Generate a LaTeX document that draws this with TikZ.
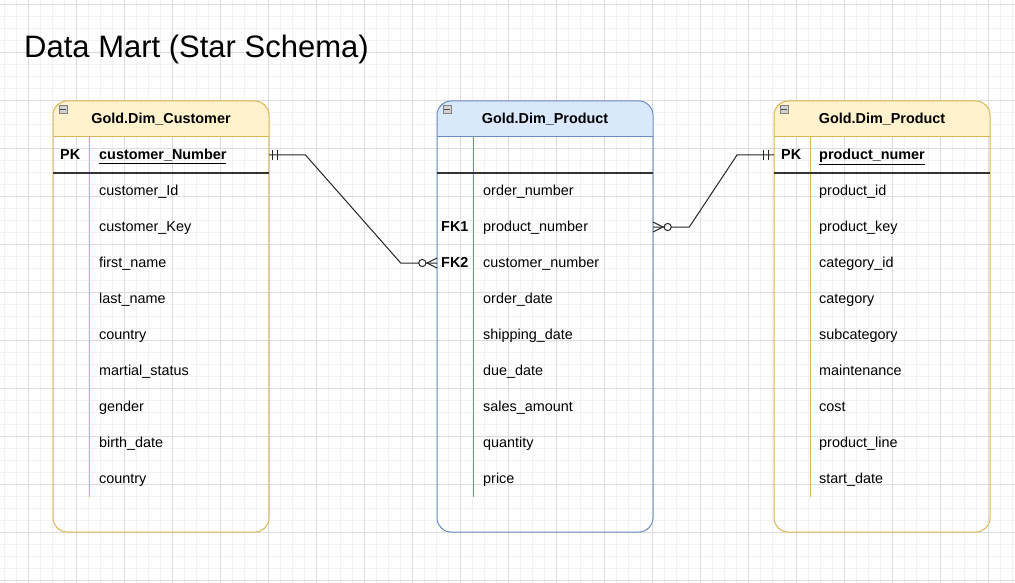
\documentclass[tikz,border=0pt]{standalone}
\usepackage{fontspec}
\setmainfont{Liberation Sans}
\definecolor{ybg}{HTML}{FFF2CC}
\definecolor{ybd}{HTML}{D6B656}
\definecolor{bbg}{HTML}{DAE8FC}
\definecolor{bbd}{HTML}{6C8EBF}
\definecolor{gmin}{HTML}{F2F2F2}
\definecolor{gmaj}{HTML}{DCDCDC}
\newcommand\ertable[5]{%
 \fill[#3] (#2,137) -- (#2,115) [rounded corners=14pt] -- (#2,101) -- (#2+216,101) -- (#2+216,115) [sharp corners] -- (#2+216,137) -- cycle;
 \node[tbl=#4] (#1) at (#2+108,316.5) {};
 \draw[#4,line width=1pt] (#2,137) -- (#2+216,137);
 \draw[#4,line width=1pt] (#2+36,137) -- (#2+36,497);
 \draw[black!80,line width=1.4pt] (#2,173) -- (#2+216,173);
 \node[hdr] (#1-t) at (#2+108,119) {#5};
 \node[draw=gray,fill=gray!35,minimum size=8pt,inner sep=0pt,line width=0.6pt] (#1-i) at (#2+10,109) {};
 \draw[black!70,line width=0.8pt] ([xshift=1.5pt]#1-i.west) -- ([xshift=-1.5pt]#1-i.east);
}
\begin{document}
\begin{tikzpicture}[x=1pt,y=-1pt,
 cell/.style={anchor=mid west,inner sep=0pt,yshift=-2pt,font=\fontsize{14.4}{17}\selectfont},
 key/.style={anchor=mid west,inner sep=0pt,yshift=-2pt,font=\fontsize{14.4}{17}\selectfont\bfseries},
 hdr/.style={inner sep=0pt,font=\fontsize{14.4}{17}\selectfont\bfseries},
 tbl/.style={draw=#1,line width=1pt,rounded corners=14pt,minimum width=216pt,minimum height=431pt,inner sep=0pt,outer sep=0pt},
 rel/.style={line width=1pt,black!85},
]
\useasboundingbox (0,0) rectangle (1015,583);
\fill[white] (0,0) rectangle (1015,583);
% grid
\foreach \i in {0,...,85} \draw[gmin,line width=0.8pt] ({4.3+12*\i},0) -- ({4.3+12*\i},583);
\foreach \i in {0,...,48} \draw[gmin,line width=0.8pt] (0,{4+12*\i}) -- (1015,{4+12*\i});
\foreach \i in {0,...,21} \draw[gmaj,line width=0.8pt] ({28.3+48*\i},0) -- ({28.3+48*\i},583);
\foreach \i in {0,...,12} \draw[gmaj,line width=0.8pt] (0,{4+48*\i}) -- (1015,{4+48*\i});

% title
\node[anchor=base west,inner sep=0pt,font=\fontsize{31}{37}\selectfont] (title) at (24,57.5) {Data Mart (Star Schema)};

% tables
\ertable{lt}{53}{ybg}{ybd}{Gold.Dim\_Customer}
\ertable{mt}{437}{bbg}{bbd}{Gold.Dim\_Product}
\ertable{rt}{774}{ybg}{ybd}{Gold.Dim\_Product}

% left table rows
\node[key] (lpkk) at (60,155) {PK};
\node[key] (l0) at (99,155) {\underline{customer\_Number}};
\node[cell] (l1) at (99,191) {customer\_Id};
\node[cell] (l2) at (99,227) {customer\_Key};
\node[cell] (l3) at (99,263) {first\_name};
\node[cell] (l4) at (99,299) {last\_name};
\node[cell] (l5) at (99,335) {country};
\node[cell] (l6) at (99,371) {martial\_status};
\node[cell] (l7) at (99,407) {gender};
\node[cell] (l8) at (99,443) {birth\_date};
\node[cell] (l9) at (99,479) {country};

% middle table rows
\node[cell] (m1) at (483,191) {order\_number};
\node[key] (mfk1k) at (441,227) {FK1};
\node[cell] (m2) at (483,227) {product\_number};
\node[key] (mfk2k) at (441,263) {FK2};
\node[cell] (m3) at (483,263) {customer\_number};
\node[cell] (m4) at (483,299) {order\_date};
\node[cell] (m5) at (483,335) {shipping\_date};
\node[cell] (m6) at (483,371) {due\_date};
\node[cell] (m7) at (483,407) {sales\_amount};
\node[cell] (m8) at (483,443) {quantity};
\node[cell] (m9) at (483,479) {price};

% right table rows
\node[key] (rpkk) at (781,155) {PK};
\node[key] (r0) at (819,155) {\underline{product\_numer}};
\node[cell] (r1) at (819,191) {product\_id};
\node[cell] (r2) at (819,227) {product\_key};
\node[cell] (r3) at (819,263) {category\_id};
\node[cell] (r4) at (819,299) {category};
\node[cell] (r5) at (819,335) {subcategory};
\node[cell] (r6) at (819,371) {maintenance};
\node[cell] (r7) at (819,407) {cost};
\node[cell] (r8) at (819,443) {product\_line};
\node[cell] (r9) at (819,479) {start\_date};

% connectors
\coordinate (lpk) at (269,155);
\coordinate (mfk2) at (437,263);
\coordinate (mfk1) at (653,227);
\coordinate (rpk) at (774,155);

\draw[rel] (lpk) -- (305.5,155) -- (400.7,263) -- (mfk2);
\draw[rel] (272.7,150) -- (272.7,160);
\draw[rel] (277.3,150) -- (277.3,160);
\draw[rel,fill=white] (422.3,263) circle (3.6pt);
\draw[rel] (437,258) -- (427,263) -- (437,268);

\draw[rel] (mfk1) -- (689.3,227) -- (737,155) -- (rpk);
\draw[rel] (763.3,150) -- (763.3,160);
\draw[rel] (768,150) -- (768,160);
\draw[rel,fill=white] (667.7,227) circle (3.6pt);
\draw[rel] (653,222) -- (663,227) -- (653,232);
\end{tikzpicture}
\end{document}
